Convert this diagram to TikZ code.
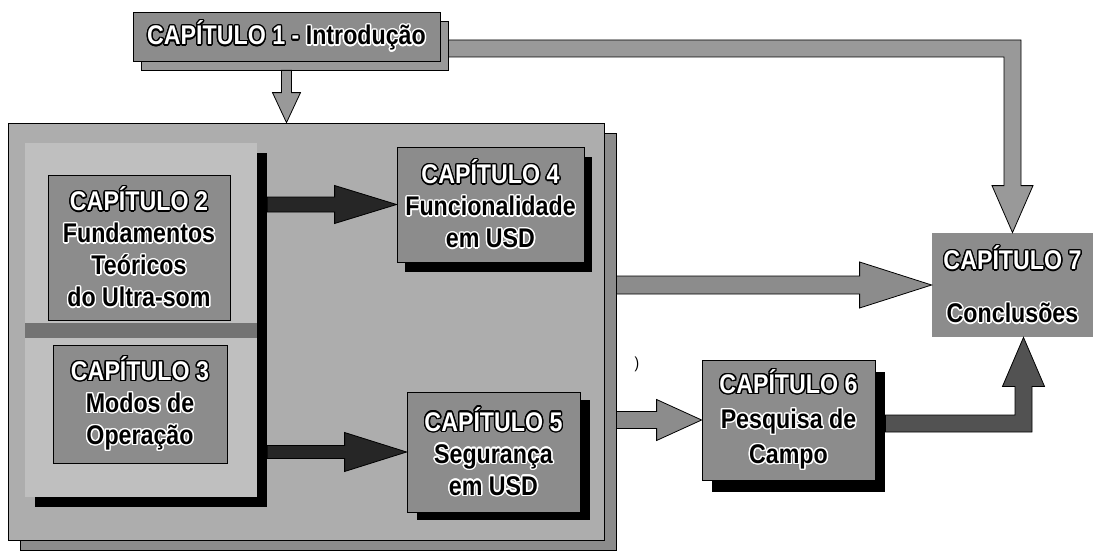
\documentclass[tikz,border=0pt]{standalone}
\usepackage{fontspec}
\setmainfont{Liberation Sans}[FakeStretch=0.86]
\usepackage{contour}
\contourlength{1.4pt}
\usetikzlibrary{calc,shadows}

\newcommand\cw[1]{\contour{black}{\textcolor{white}{#1}}}
\newcommand\cb[1]{\contour{white}{\textcolor{black}{#1}}}
% horizontal block arrow: style, start node, tip, half shaft, half head, head length
\newcommand\hblk[6]{\path[#1] ($(#2|-#3)+(0,-#4)$) -- ($(#3)+(-#6,-#4)$) -- ($(#3)+(-#6,-#5)$) -- (#3) -- ($(#3)+(-#6,#5)$) -- ($(#3)+(-#6,#4)$) -- ($(#2|-#3)+(0,#4)$) -- cycle;}

\begin{document}
\begin{tikzpicture}[x=1pt,y=-1pt,
  face/.style={draw=black, line width=0.8pt, fill=black!45, inner sep=0pt, align=center,
    font=\bfseries\fontsize{27}{32}\selectfont},
  blackshadow/.style 2 args={drop shadow={shadow xshift=#1pt, shadow yshift=-#2pt, fill=black, opacity=1}},
  grayarrow/.style={draw=black, line width=0.8pt, fill=black!40},
  midarrow/.style={draw=black, line width=0.8pt, fill=black!45},
  darkarrow/.style={draw=black, line width=0.8pt, fill=black!85},
  dgarrow/.style={draw=black, line width=0.8pt, fill=black!68}]
\useasboundingbox (0,0) rectangle (1095,551);

% big textured frame
\node[draw=black, line width=0.8pt, fill=black!32, minimum width=596, minimum height=417, inner sep=0pt,
  drop shadow={shadow xshift=12pt, shadow yshift=-10pt, fill=black!45, draw=black, opacity=1}] (grp) at (306,331.5) {};

% group of chapters 2 and 3
\node[fill=black!25, minimum width=232, minimum height=354, inner sep=0pt, blackshadow={10}{10}] (g23) at (141,320) {};
\node[fill=black!55, minimum width=232, minimum height=15, inner sep=0pt] (band) at (141,330.5) {};
\coordinate (bar) at ($(g23.east)+(10,0)$);

\node[face, minimum width=182, minimum height=145] (c2) at (139,247.5)
  {\cw{CAPÍTULO 2}\\\cb{Fundamentos}\\\cb{Teóricos}\\\cb{do Ultra-som}};
\node[face, minimum width=174, minimum height=118] (c3) at (140,404)
  {\cw{CAPÍTULO 3}\\\cb{Modos de}\\\cb{Operação}};

\node[face, minimum width=187, minimum height=115, blackshadow={8}{10}] (c4) at (490.5,204.5)
  {\cw{CAPÍTULO 4}\\\cb{Funcionalidade}\\\cb{em USD}};
\node[face, minimum width=173, minimum height=120, blackshadow={10}{8}] (c5) at (493.5,452)
  {\cw{CAPÍTULO 5}\\\cb{Segurança}\\\cb{em USD}};
\node[face, minimum width=173, minimum height=120, blackshadow={10}{12}, font=\bfseries\fontsize{27}{35}\selectfont] (c6) at (788.5,420)
  {\cw{CAPÍTULO 6}\\\cb{Pesquisa de}\\\cb{Campo}};
\node[face, draw=none, minimum width=161, minimum height=104] (c7) at (1012.5,285)
  {\cw{CAPÍTULO 7}\\[21pt]\cb{Conclusões}};

\node[face, minimum width=307, minimum height=49,
  drop shadow={shadow xshift=8pt, shadow yshift=-9pt, fill=black!40, draw=black, opacity=1}] (c1) at (286.5,36.5)
  {\cw{CAPÍTULO 1 -} \cb{Introdução}};

\node[font=\fontsize{16}{16}\selectfont] (paren) at (637,364) {)};

% arrows from the chapter 2/3 bar
\hblk{darkarrow}{bar}{c4.west}{7.5}{19}{62}
\hblk{darkarrow}{bar}{c5.west}{6.5}{19.5}{62}

% arrows out of the big frame
\coordinate (bs) at ($(grp.east)+(12,0)$);
\hblk{midarrow}{bs}{c7.west}{9}{23}{72}
\hblk{midarrow}{bs}{c6.west}{8.5}{20.5}{45}

% chapter 1 down into frame
\coordinate (d1) at ($(c1.south)+(0,9)$);
\coordinate (d2) at (c1.south |- grp.north);
\path[grayarrow] ($(d1)+(-5,0)$) -- ($(d2)+(-5,-30)$) -- ($(d2)+(-14,-30)$) -- (d2)
  -- ($(d2)+(14,-30)$) -- ($(d2)+(5,-30)$) -- ($(d1)+(5,0)$) -- cycle;

% chapter 1 to chapter 7
\coordinate (j1) at ($(c1.east)+(8,12)$);
\coordinate (k1) at (c7.north |- j1);
\path[grayarrow] ($(j1)+(0,-8.5)$) -- ($(k1)+(8.5,-8.5)$) -- ($(c7.north)+(8.5,-47)$)
  -- ($(c7.north)+(20.5,-47)$) -- (c7.north) -- ($(c7.north)+(-20.5,-47)$)
  -- ($(c7.north)+(-8.5,-47)$) -- ($(k1)+(-8.5,8.5)$) -- ($(j1)+(0,8.5)$) -- cycle;

% chapter 6 to chapter 7
\coordinate (e1) at ($(c6.east)+(10,3.5)$);
\coordinate (e2) at ($(c7.south)+(11,0)$);
\coordinate (e3) at (e2 |- e1);
\path[dgarrow] ($(e1)+(0,-8.5)$) -- ($(e3)+(-8.5,-8.5)$) -- ($(e2)+(-8.5,49)$)
  -- ($(e2)+(-21,49)$) -- (e2) -- ($(e2)+(21,49)$) -- ($(e2)+(8.5,49)$)
  -- ($(e3)+(8.5,8.5)$) -- ($(e1)+(0,8.5)$) -- cycle;
\end{tikzpicture}
\end{document}
